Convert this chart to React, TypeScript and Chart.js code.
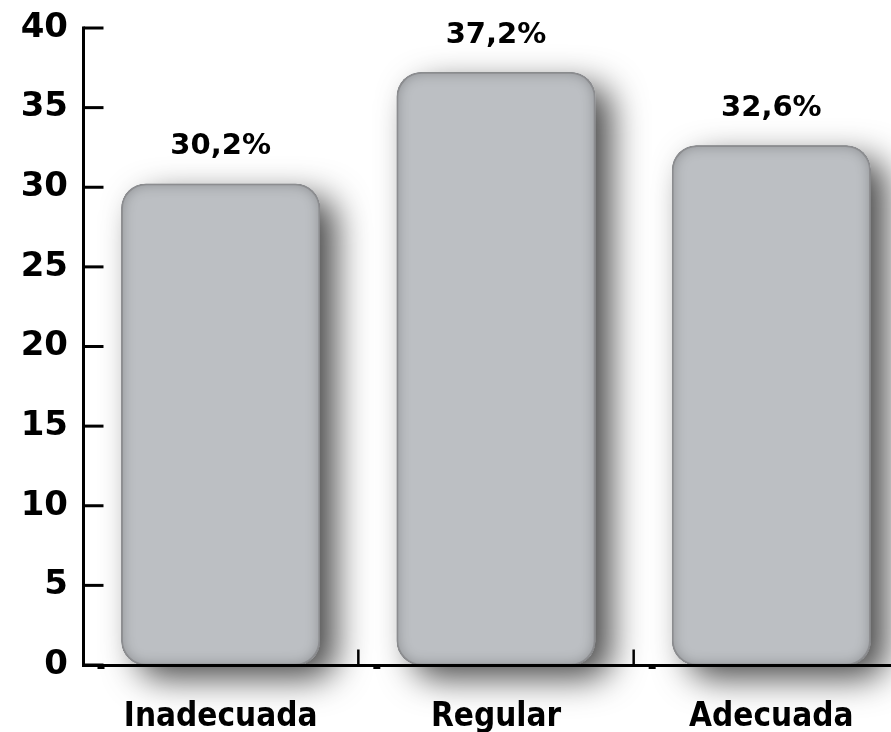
import React, { useEffect, useRef } from 'react';
import { Chart, registerables } from 'chart.js';

Chart.register(...registerables);

const categories: string[] = ['Inadecuada', 'Regular', 'Adecuada'];
const percentages: number[] = [30.2, 37.2, 32.6];
const valueLabels: string[] = ['30,2%', '37,2%', '32,6%'];
const yMin = 0;
const yMax = 40;
const yStep = 5;

const FONT = '"DejaVu Sans", "Liberation Sans", sans-serif';
const CAT_FONT = '"DejaVu Sans Condensed", "DejaVu Sans", sans-serif';

function roundRectPath(ctx: CanvasRenderingContext2D, l: number, t: number, r: number, b: number, rad: number) {
  const rr = Math.max(0, Math.min(rad, (r - l) / 2, (b - t) / 2));
  ctx.moveTo(l + rr, t);
  ctx.lineTo(r - rr, t);
  ctx.arcTo(r, t, r, t + rr, rr);
  ctx.lineTo(r, b - rr);
  ctx.arcTo(r, b, r - rr, b, rr);
  ctx.lineTo(l + rr, b);
  ctx.arcTo(l, b, l, b - rr, rr);
  ctx.lineTo(l, t + rr);
  ctx.arcTo(l, t, l + rr, t, rr);
  ctx.closePath();
}

const RADIUS = 24;

const decorPlugin = {
  id: 'decor',
  beforeDatasetsDraw(chart: any) {
    const ctx: CanvasRenderingContext2D = chart.ctx;
    const meta = chart.getDatasetMeta(0);
    meta.data.forEach((bar: any) => {
      const p = bar.getProps(['x', 'y', 'base', 'width'], true);
      const l = p.x - p.width / 2;
      const r = p.x + p.width / 2;
      ctx.save();
      ctx.shadowColor = 'rgba(0,0,0,0.72)';
      ctx.shadowBlur = 34;
      ctx.shadowOffsetX = 16;
      ctx.shadowOffsetY = 13;
      ctx.fillStyle = '#bcbfc3';
      ctx.beginPath();
      roundRectPath(ctx, l, p.y, r, p.base, RADIUS);
      ctx.fill();
      ctx.restore();
    });
  },
  afterDatasetsDraw(chart: any) {
    const ctx: CanvasRenderingContext2D = chart.ctx;
    const meta = chart.getDatasetMeta(0);
    const area = chart.chartArea;
    const xs = chart.scales.x;
    const ys = chart.scales.y;

    // inner shadow + outline
    meta.data.forEach((bar: any) => {
      const p = bar.getProps(['x', 'y', 'base', 'width'], true);
      const l = p.x - p.width / 2;
      const r = p.x + p.width / 2;
      ctx.save();
      ctx.beginPath();
      roundRectPath(ctx, l, p.y, r, p.base, RADIUS);
      ctx.clip();
      ctx.beginPath();
      ctx.rect(l - 200, p.y - 200, p.width + 400, p.base - p.y + 400);
      roundRectPath(ctx, l, p.y, r, p.base, RADIUS);
      ctx.shadowColor = 'rgba(0,0,0,0.28)';
      ctx.shadowBlur = 14;
      ctx.fillStyle = '#000';
      ctx.fill('evenodd');
      ctx.restore();
      ctx.save();
      ctx.beginPath();
      roundRectPath(ctx, l + 0.5, p.y + 0.5, r - 0.5, p.base - 0.5, RADIUS);
      ctx.strokeStyle = '#8c8d90';
      ctx.lineWidth = 1.5;
      ctx.stroke();
      ctx.restore();
    });

    // axes
    ctx.save();
    ctx.strokeStyle = '#000';
    ctx.fillStyle = '#000';
    ctx.lineCap = 'butt';
    const left = area.left + 0.5;
    const bottom = area.bottom + 0.5;
    ctx.lineWidth = 3;
    ctx.beginPath();
    ctx.moveTo(left, ys.getPixelForValue(yMax) - 1.5);
    ctx.lineTo(left, bottom + 1.5);
    ctx.stroke();
    for (let v = yMin; v <= yMax; v += yStep) {
      const y = ys.getPixelForValue(v);
      ctx.beginPath();
      ctx.moveTo(left, y);
      ctx.lineTo(left + 20, y);
      ctx.stroke();
    }
    ctx.beginPath();
    ctx.moveTo(left - 1.5, bottom);
    ctx.lineTo(chart.width, bottom);
    ctx.stroke();
    ctx.lineWidth = 2.5;
    const stubs: number[] = [left + 14];
    for (let i = 0; i < categories.length - 1; i++) {
      const x = (xs.getPixelForValue(i) + xs.getPixelForValue(i + 1)) / 2;
      ctx.beginPath();
      ctx.moveTo(x, bottom - 16);
      ctx.lineTo(x, bottom);
      ctx.stroke();
      stubs.push(x + 15);
    }
    stubs.forEach((sx) => ctx.fillRect(sx, bottom + 1, 7, 2.5));
    ctx.restore();

    // value labels
    ctx.save();
    ctx.fillStyle = '#000';
    ctx.font = 'bold 29px ' + FONT;
    ctx.textAlign = 'center';
    ctx.textBaseline = 'alphabetic';
    meta.data.forEach((bar: any, i: number) => {
      const p = bar.getProps(['x', 'y'], true);
      ctx.fillText(valueLabels[i], p.x, p.y - 30);
    });
    ctx.restore();
  },
};

export default function App() {
  const ref = useRef<HTMLCanvasElement | null>(null);
  useEffect(() => {
    if (!ref.current) return;
    const chart = new Chart(ref.current, {
      type: 'bar',
      data: {
        labels: categories,
        datasets: [
          {
            data: percentages,
            backgroundColor: '#bcbfc3',
            borderColor: 'rgba(0,0,0,0)',
            borderWidth: 0,
            borderRadius: RADIUS,
            borderSkipped: false,
            barThickness: 198,
            clip: false as any,
          },
        ],
      },
      options: {
        animation: false,
        responsive: true,
        maintainAspectRatio: false,
        layout: { padding: { top: 28, left: 0, right: 0, bottom: 0 } },
        plugins: { legend: { display: false }, tooltip: { enabled: false } },
        scales: {
          x: {
            type: 'category',
            grid: { display: false, drawTicks: false },
            border: { display: false },
            ticks: {
              color: '#000',
              font: { family: CAT_FONT, weight: 'bold', size: 33 },
              padding: 33,
              maxRotation: 0,
              autoSkip: false,
            },
            afterFit: (s: any) => {
              s.height = 67;
              s.paddingLeft = 0;
              s.paddingRight = 0;
            },
          },
          y: {
            min: yMin,
            max: yMax,
            grid: { display: false, drawTicks: false },
            border: { display: false },
            ticks: {
              stepSize: yStep,
              color: '#000',
              font: { family: FONT, weight: 'bold', size: 34 },
              padding: 15,
            },
            afterFit: (s: any) => {
              s.width = 83;
              s.paddingTop = 0;
              s.paddingBottom = 0;
            },
          },
        },
      } as any,
      plugins: [decorPlugin],
    });
    return () => chart.destroy();
  }, []);

  return (
    <div style={{ position: 'fixed', left: 0, top: 0, width: '100vw', height: '100vh', overflow: 'hidden', background: '#fff' }}>
      <div style={{ position: 'relative', width: 909, height: 732 }}>
        <canvas ref={ref} />
      </div>
    </div>
  );
}
